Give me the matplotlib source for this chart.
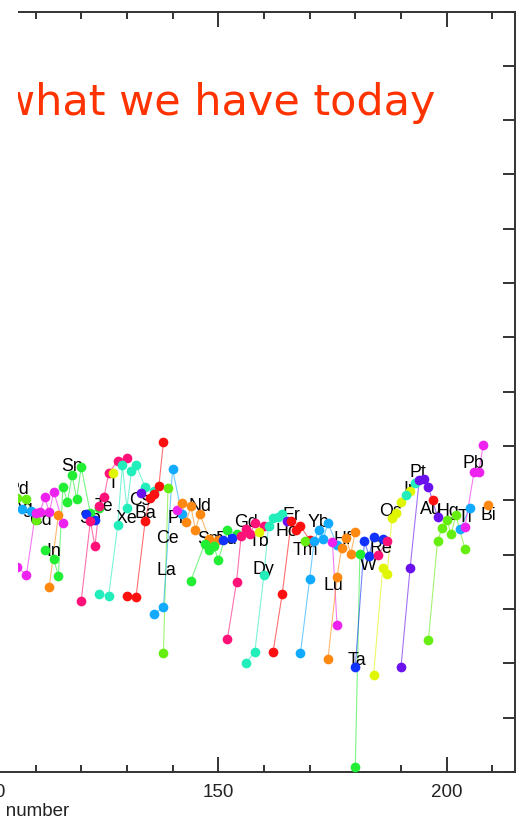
import matplotlib
matplotlib.use("Agg")
import matplotlib.pyplot as plt
from matplotlib.patches import Rectangle
from matplotlib.ticker import MultipleLocator, LogLocator, NullLocator

# ---------------- data (mass number, abundance) per element ----------------
Pd_A = [106, 108, 110];                       Pd_N = [0.110, 0.106, 0.0434]
Ag_A = [107, 109];                            Ag_N = [0.0692, 0.0635]
Cd_A = [106, 108, 110, 111, 112, 113, 114, 116]
Cd_N = [0.00591, 0.00421, 0.0583, 0.0609, 0.115, 0.0600, 0.142, 0.0382]
In_A = [113, 115];                            In_N = [0.00253, 0.0536]
Sn_A = [112, 114, 115, 116, 117, 118, 119, 120, 122, 124]
Sn_N = [0.0122, 0.00830, 0.00404, 0.176, 0.0931, 0.292, 0.106, 0.410, 0.0583, 0.0722]
Sb_A = [121, 123];                            Sb_N = [0.0560, 0.0434]
Te_A = [120, 122, 123, 124, 125, 126, 128, 130]
Te_N = [0.00140, 0.0416, 0.0144, 0.0785, 0.115, 0.318, 0.530, 0.601]
I_A = [127];                                  I_N = [0.318]
Xe_A = [124, 126, 128, 129, 130, 131, 132, 134, 136]
Xe_N = [0.00188, 0.00173, 0.0351, 0.447, 0.0722, 0.347, 0.447, 0.176, 0.148]
Cs_A = [133];                                 Cs_N = [0.136]
Ba_A = [130, 132, 134, 135, 136, 137, 138]
Ba_N = [0.00173, 0.00166, 0.0416, 0.110, 0.131, 0.183, 1.185]
La_A = [138, 139];                            La_N = [0.000154, 0.169]
Ce_A = [136, 138, 140, 142];                  Ce_N = [0.000805, 0.00108, 0.377, 0.0560]
Pr_A = [141];                                 Pr_N = [0.0663]
Nd_A = [142, 143, 144, 145, 146, 148, 150]
Nd_N = [0.0892, 0.0398, 0.0785, 0.0284, 0.0560, 0.0194, 0.0186]
Sm_A = [144, 147, 148, 149, 150, 152, 154]
Sm_N = [0.00327, 0.0157, 0.0122, 0.0144, 0.00796, 0.0284, 0.0240]
Eu_A = [151, 153];                            Eu_N = [0.0186, 0.0202]
Gd_A = [152, 154, 155, 156, 157, 158, 160]
Gd_N = [0.000279, 0.00313, 0.0220, 0.0296, 0.0240, 0.0382, 0.0336]
Tb_A = [159];                                 Tb_N = [0.0261]
Dy_A = [156, 158, 160, 161, 162, 163, 164]
Dy_N = [0.000101, 0.000161, 0.00421, 0.0336, 0.0472, 0.0492, 0.0560]
Ho_A = [165];                                 Ho_N = [0.0416]
Er_A = [162, 164, 166, 167, 168, 170]
Er_N = [0.000161, 0.00188, 0.0416, 0.0284, 0.0336, 0.0186]
Tm_A = [169];                                 Tm_N = [0.0178]
Yb_A = [168, 170, 171, 172, 173, 174, 176]
Yb_N = [0.000154, 0.00356, 0.0178, 0.0284, 0.0194, 0.0382, 0.0150]
Lu_A = [175, 176];                            Lu_N = [0.0171, 0.000505]
Hf_A = [174, 176, 177, 178, 179, 180]
Hf_N = [0.000119, 0.00387, 0.0132, 0.0202, 0.0103, 0.0261]
Ta_A = [180, 181];                            Ta_N = [1.23e-6, 0.0103]
W_A = [180, 182, 183, 184, 186];              W_N = [8.5e-5, 0.0178, 0.00942, 0.0211, 0.0194]
Re_A = [185, 187];                            Re_N = [0.00984, 0.0178]
Os_A = [184, 186, 187, 188, 189, 190, 192]
Os_N = [6.07e-5, 0.00567, 0.00439, 0.0472, 0.0583, 0.0931, 0.148]
Ir_A = [191, 193];                            Ir_N = [0.125, 0.208]
Pt_A = [190, 192, 194, 195, 196, 198]
Pt_N = [8.5e-5, 0.00567, 0.236, 0.247, 0.176, 0.0492]
Au_A = [197];                                 Au_N = [0.101]
Hg_A = [196, 198, 199, 200, 201, 202, 204]
Hg_N = [0.000267, 0.0178, 0.0309, 0.0434, 0.0240, 0.0536, 0.0127]
Tl_A = [203, 205];                            Tl_N = [0.0296, 0.0722]
Pb_A = [204, 206, 207, 208];                  Pb_N = [0.0322, 0.332, 0.336, 1.04]
Bi_A = [209];                                 Bi_N = [0.0819]

symbols = ["Pd", "Ag", "Cd", "In", "Sn", "Sb", "Te", "I", "Xe", "Cs", "Ba", "La",
           "Ce", "Pr", "Nd", "Sm", "Eu", "Gd", "Tb", "Dy", "Ho", "Er", "Tm", "Yb",
           "Lu", "Hf", "Ta", "W", "Re", "Os", "Ir", "Pt", "Au", "Hg", "Tl", "Pb", "Bi"]
masses = [Pd_A, Ag_A, Cd_A, In_A, Sn_A, Sb_A, Te_A, I_A, Xe_A, Cs_A, Ba_A, La_A,
          Ce_A, Pr_A, Nd_A, Sm_A, Eu_A, Gd_A, Tb_A, Dy_A, Ho_A, Er_A, Tm_A, Yb_A,
          Lu_A, Hf_A, Ta_A, W_A, Re_A, Os_A, Ir_A, Pt_A, Au_A, Hg_A, Tl_A, Pb_A, Bi_A]
abunds = [Pd_N, Ag_N, Cd_N, In_N, Sn_N, Sb_N, Te_N, I_N, Xe_N, Cs_N, Ba_N, La_N,
          Ce_N, Pr_N, Nd_N, Sm_N, Eu_N, Gd_N, Tb_N, Dy_N, Ho_N, Er_N, Tm_N, Yb_N,
          Lu_N, Hf_N, Ta_N, W_N, Re_N, Os_N, Ir_N, Pt_N, Au_N, Hg_N, Tl_N, Pb_N, Bi_N]

# label anchor positions (data coordinates)
label_A = [106.15, 107.25, 110.97, 114.03, 117.97, 121.91, 124.98, 126.95, 130.01,
           132.85, 133.95, 138.55, 138.77, 140.74, 146.0, 148.40, 151.69, 156.06,
           158.91, 159.79, 165.04, 165.92, 168.98, 171.83, 175.11, 177.08, 180.36,
           182.77, 185.62, 187.81, 191.75, 193.72, 196.56, 200.28, 204.0, 205.76, 209.04]
label_N = [0.155, 0.0692, 0.0416, 0.01117, 0.428, 0.0472, 0.0753, 0.208, 0.0472,
           0.0971, 0.0560, 0.00499, 0.0194, 0.0453, 0.0785, 0.0186, 0.0186, 0.0382,
           0.0171, 0.00543, 0.0272, 0.0536, 0.01165, 0.0398, 0.00275, 0.0186, 0.000110,
           0.00617, 0.0127, 0.0635, 0.155, 0.332, 0.0663, 0.0609, 0.0492, 0.486, 0.0536]

palette = ["#FF1010", "#66EE11", "#11AAFF", "#EE22EE", "#FF8811", "#22EE33",
           "#1133FF", "#FF1177", "#E0F500", "#22EEBB", "#6A11EE"]

# ---------------- figure ----------------
W, H = 521, 821
fig = plt.figure(figsize=(W / 100, H / 100), dpi=100)
ax_l, ax_r, ax_t, ax_b = -467.0, 515.2, 11.6, 771.8
ax = fig.add_axes([ax_l / W, 1 - ax_b / H, (ax_r - ax_l) / W, (ax_b - ax_t) / H])

for i, (sym, A, N) in enumerate(zip(symbols, masses, abunds)):
    col = palette[(i + 1) % 11]
    ax.plot(A, N, "-", color=col, lw=0.8, alpha=0.6, zorder=1)
    ax.plot(A, N, "o", color=col, ms=7.0, mec="none", zorder=3)
    ax.text(label_A[i], label_N[i], sym, ha="center", va="center",
            fontsize=12.8, family="Liberation Sans", color="black", zorder=2)

ax.set_yscale("log")
ax.set_xlim(0, 215)
ax.set_ylim(1e-6, 1e8)
ax.xaxis.set_major_locator(MultipleLocator(50))
ax.xaxis.set_minor_locator(MultipleLocator(10))
ax.yaxis.set_major_locator(LogLocator(base=10, numticks=30))
ax.yaxis.set_minor_locator(NullLocator())

spine_col = "#333333"
for s in ax.spines.values():
    s.set_linewidth(1.4)
    s.set_color(spine_col)
ax.tick_params(axis="x", which="major", direction="in", top=True, length=10.8,
               width=1.4, color=spine_col, pad=9, labelsize=13.5)
ax.tick_params(axis="x", which="minor", direction="in", top=True, length=5.2,
               width=1.4, color=spine_col)
ax.tick_params(axis="y", which="major", direction="in", right=True, length=8.6,
               width=1.4, color=spine_col, labelsize=13)
for lab in ax.get_xticklabels() + ax.get_yticklabels():
    lab.set_family("Liberation Sans")
    lab.set_color("#222222")

ax.set_xlabel("Mass number", fontsize=13.5, family="Liberation Sans", color="#222222")
ax.xaxis.set_label_coords(0.4885, -0.041)

fig.text(436 / W, 1 - 115 / H, "what we have today", ha="right", va="baseline",
         fontsize=31, color="#FF3300", family="DejaVu Sans")

# white strip covering the left edge (as in the source slide)
fig.patches.append(Rectangle((0, 1 - 700 / H), 18 / W, 700 / H,
                             transform=fig.transFigure, facecolor="white",
                             edgecolor="none", zorder=10))

fig.savefig("out.png", dpi=100)
